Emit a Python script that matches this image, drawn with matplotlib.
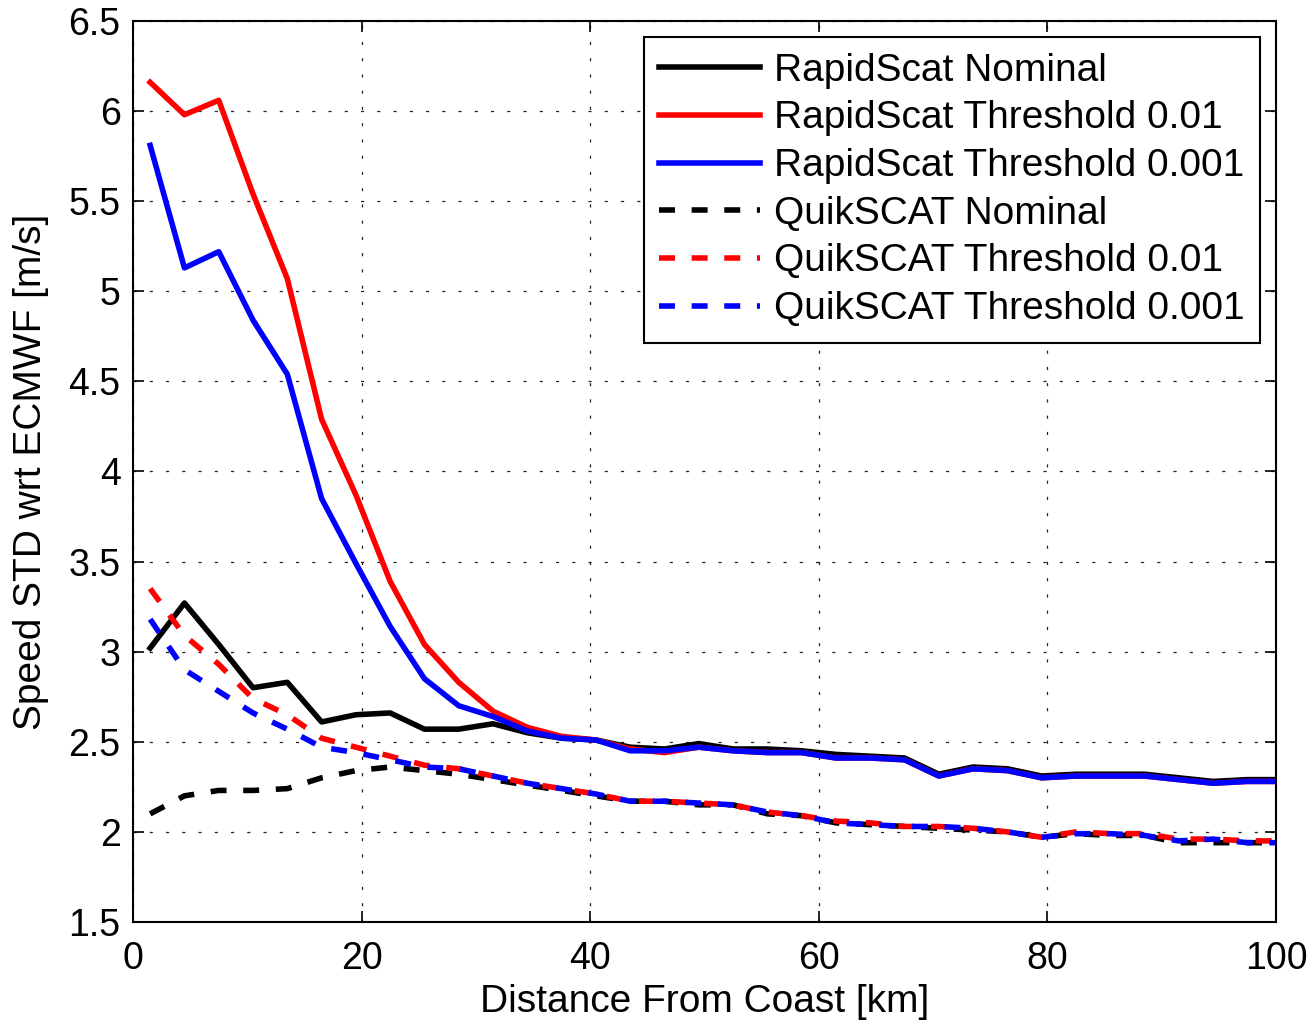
import numpy as np
import matplotlib
matplotlib.use('Agg')
import matplotlib.pyplot as plt
from matplotlib.ticker import FuncFormatter

# Distance from coast [km] (bin centres)
distance = [1.5, 4.5, 7.5, 10.5, 13.5, 16.5, 19.5, 22.5, 25.5, 28.5, 31.5, 34.5,
            37.5, 40.5, 43.5, 46.5, 49.5, 52.5, 55.5, 58.5, 61.5, 64.5, 67.5, 70.5,
            73.5, 76.5, 79.5, 82.5, 85.5, 88.5, 91.5, 94.5, 97.5, 100.5]

rs_nominal = [3.02, 3.27, 3.04, 2.80, 2.83, 2.61, 2.65, 2.66, 2.57, 2.57, 2.60, 2.55,
              2.52, 2.51, 2.47, 2.46, 2.49, 2.46, 2.46, 2.45, 2.43, 2.42, 2.41, 2.32,
              2.36, 2.35, 2.31, 2.32, 2.32, 2.32, 2.30, 2.28, 2.29, 2.29]
rs_thr_01 = [6.16, 5.98, 6.06, 5.54, 5.07, 4.29, 3.87, 3.39, 3.04, 2.83, 2.67, 2.58,
             2.53, 2.51, 2.46, 2.44, 2.47, 2.45, 2.44, 2.44, 2.41, 2.41, 2.40, 2.31,
             2.35, 2.34, 2.30, 2.31, 2.31, 2.31, 2.29, 2.27, 2.28, 2.28]
rs_thr_001 = [5.81, 5.13, 5.22, 4.84, 4.54, 3.85, 3.49, 3.14, 2.85, 2.70, 2.64, 2.56,
              2.52, 2.51, 2.45, 2.45, 2.47, 2.45, 2.44, 2.44, 2.41, 2.41, 2.40, 2.31,
              2.35, 2.34, 2.30, 2.31, 2.31, 2.31, 2.29, 2.27, 2.28, 2.28]

qs_nominal = [2.10, 2.20, 2.23, 2.23, 2.24, 2.30, 2.34, 2.36, 2.34, 2.32, 2.29, 2.26,
              2.23, 2.20, 2.17, 2.17, 2.15, 2.15, 2.10, 2.09, 2.05, 2.04, 2.03, 2.02,
              2.01, 2.00, 1.97, 1.99, 1.98, 1.98, 1.94, 1.94, 1.94, 1.94]
qs_thr_01 = [3.35, 3.09, 2.93, 2.74, 2.65, 2.52, 2.47, 2.42, 2.37, 2.35, 2.31, 2.27,
             2.24, 2.21, 2.17, 2.17, 2.16, 2.15, 2.11, 2.09, 2.06, 2.05, 2.03, 2.03,
             2.02, 2.00, 1.97, 2.00, 1.99, 1.99, 1.96, 1.96, 1.95, 1.95]
qs_thr_001 = [3.18, 2.90, 2.78, 2.66, 2.57, 2.47, 2.44, 2.40, 2.36, 2.35, 2.31, 2.27,
              2.24, 2.21, 2.17, 2.17, 2.16, 2.15, 2.11, 2.09, 2.05, 2.04, 2.03, 2.03,
              2.02, 2.00, 1.97, 1.99, 1.99, 1.98, 1.95, 1.96, 1.94, 1.94]

labels = ['RapidScat Nominal', 'RapidScat Threshold 0.01', 'RapidScat Threshold 0.001',
          'QuikSCAT Nominal', 'QuikSCAT Threshold 0.01', 'QuikSCAT Threshold 0.001']

FONT = ['Liberation Sans', 'Arial', 'DejaVu Sans']


def main():
    plt.rcParams['font.family'] = FONT
    fig = plt.figure(figsize=(13.13, 10.21), dpi=100)
    ax = fig.add_axes([0.1013, 0.0970, 0.8705, 0.8824])

    lw = 4.0
    dash = (11.5 / lw, 12.0 / lw)
    series = [rs_nominal, rs_thr_01, rs_thr_001, qs_nominal, qs_thr_01, qs_thr_001]
    colors = ['k', 'r', 'b', 'k', 'r', 'b']
    for i, (vals, col, lab) in enumerate(zip(series, colors, labels)):
        if i < 3:
            ax.plot(distance, vals, color=col, lw=lw, label=lab)
        else:
            ax.plot(distance, vals, color=col, lw=lw, label=lab, dashes=dash)

    ax.set_xlim(0, 100)
    ax.set_ylim(1.5, 6.5)
    ax.set_xticks([0, 20, 40, 60, 80, 100])
    ax.set_yticks([1.5, 2, 2.5, 3, 3.5, 4, 4.5, 5, 5.5, 6, 6.5])
    ax.yaxis.set_major_formatter(FuncFormatter(lambda v, p: '%g' % v))

    ax.grid(True, color='#222222', lw=0.9, linestyle=(0, (2.5, 10.5)))
    ax.tick_params(direction='in', length=8, width=1.2, top=True, right=True,
                   labelsize=27)
    ax.tick_params(axis='y', pad=9)
    ax.tick_params(axis='x', pad=14)
    for sp in ax.spines.values():
        sp.set_linewidth(1.5)

    ax.set_xlabel('Distance From Coast [km]', fontsize=28, labelpad=5)
    ax.set_ylabel('Speed STD wrt ECMWF [m/s]', fontsize=28, labelpad=14)

    leg = ax.legend(loc='upper right', bbox_to_anchor=(0.986, 0.982), fontsize=28,
                    frameon=True, fancybox=False, framealpha=1, edgecolor='k',
                    borderaxespad=0, borderpad=0.4, labelspacing=0.3,
                    handlelength=2.6, handletextpad=0.35)
    leg.get_frame().set_linewidth(1.5)

    fig.savefig('out.png', dpi=100)


if __name__ == "__main__":
    main()
